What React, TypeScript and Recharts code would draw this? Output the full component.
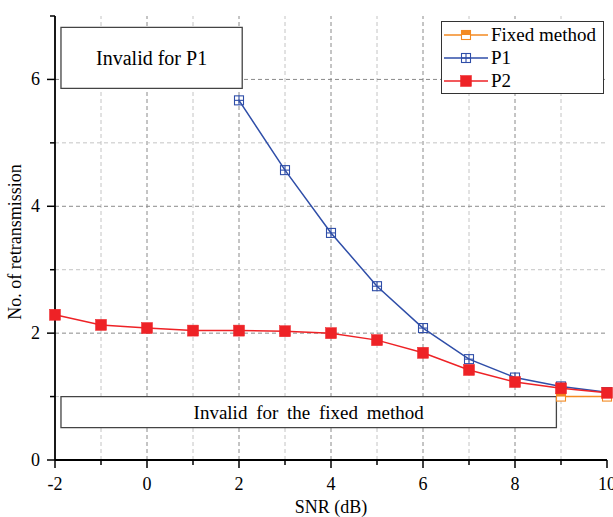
import React from 'react';
import { ComposedChart, Line, XAxis, YAxis, ReferenceLine, ReferenceArea, Legend } from 'recharts';

const snr = [-2, -1, 0, 1, 2, 3, 4, 5, 6, 7, 8, 9, 10];
const fixedMethod = [null, null, null, null, null, null, null, null, null, null, null, 1.0, 1.0];
const p1 = [null, null, null, null, 5.67, 4.57, 3.58, 2.74, 2.08, 1.59, 1.3, 1.16, 1.07];
const p2 = [2.29, 2.13, 2.08, 2.04, 2.04, 2.03, 2.0, 1.89, 1.69, 1.42, 1.23, 1.13, 1.06];

const xTicks = [-2, -1, 0, 1, 2, 3, 4, 5, 6, 7, 8, 9, 10];
const xMajor = [-2, 0, 2, 4, 6, 8, 10];
const yTicks = [0, 1, 2, 3, 4, 5, 6, 7];
const yMajor = [0, 2, 4, 6];

const seriesNames = ['Fixed method', 'P1', 'P2'];
const seriesColors = ['#f38a22', '#2f4ea8', '#ee2226'];

const data = snr.map((s, i) => ({ snr: s, fixed: fixedMethod[i], p1: p1[i], p2: p2[i] }));

const FONT = "Liberation Serif, Tinos, Times New Roman, Times, serif";

const BottomTick = (props: any) => {
  const { x, y, payload } = props;
  const major = xMajor.includes(payload.value);
  return (
    <g>
      <line x1={x} x2={x} y1={y} y2={y + (major ? 8 : 5)} stroke="#000" strokeWidth={1.5} />
      {major && (
        <text x={x} y={y + 30} textAnchor="middle" fontSize={18} style={{ fontFamily: FONT }} fill="#000">
          {payload.value}
        </text>
      )}
    </g>
  );
};
const TopTick = (props: any) => {
  const { x, y, payload } = props;
  const major = xMajor.includes(payload.value);
  return <line x1={x} x2={x} y1={y} y2={y - (major ? 8 : 5)} stroke="#000" strokeWidth={1.5} />;
};
const LeftTick = (props: any) => {
  const { x, y, payload } = props;
  const major = yMajor.includes(payload.value);
  return (
    <g>
      <line x1={x} x2={x - (major ? 8 : 5)} y1={y} y2={y} stroke="#000" strokeWidth={1.5} />
      {major && (
        <text x={x - 15} y={y + 6} textAnchor="end" fontSize={18} style={{ fontFamily: FONT }} fill="#000">
          {payload.value}
        </text>
      )}
    </g>
  );
};
const RightTick = (props: any) => {
  const { x, y, payload } = props;
  const major = yMajor.includes(payload.value);
  return <line x1={x} x2={x + (major ? 8 : 5)} y1={y} y2={y} stroke="#000" strokeWidth={1.5} />;
};

const P1Mark = ({ cx, cy, color }: any) => (
  <g>
    <rect x={cx - 4.5} y={cy - 4.5} width={9} height={9} fill="none" stroke={color} strokeWidth={1.1} />
    <line x1={cx - 4.5} x2={cx + 4.5} y1={cy} y2={cy} stroke={color} strokeWidth={1.1} />
    <line x1={cx} x2={cx} y1={cy - 4.5} y2={cy + 4.5} stroke={color} strokeWidth={1.1} />
  </g>
);
const P2Mark = ({ cx, cy, color }: any) => (
  <rect x={cx - 5.5} y={cy - 5.5} width={11} height={11} fill={color} stroke={color} strokeWidth={0.5} />
);
const FixedMark = ({ cx, cy, color }: any) => (
  <g>
    <rect x={cx - 4.5} y={cy - 4.5} width={9} height={9} fill="#fff" stroke={color} strokeWidth={1.1} />
    <rect x={cx - 4.5} y={cy - 4.5} width={9} height={4.5} fill={color} />
  </g>
);

const marks = [FixedMark, P1Mark, P2Mark];

const makeDot = (Mark: any, color: string) => (props: any) => {
  const { cx, cy, index } = props;
  if (cx == null || cy == null || props.value == null || (Array.isArray(props.value) && props.value[1] == null)) {
    return <g key={`d${index}`} />;
  }
  return (
    <g key={`d${index}`}>
      <Mark cx={cx} cy={cy} color={color} />
    </g>
  );
};

const LegendBox = () => (
  <div
    style={{
      width: 163,
      height: 73,
      border: '1.3px solid #333',
      background: '#fff',
      fontFamily: FONT,
      fontSize: 19,
      color: '#000',
      boxSizing: 'border-box',
      paddingTop: 1,
    }}
  >
    {seriesNames.map((n, i) => {
      const Mark = marks[i];
      return (
        <div key={n} style={{ display: 'flex', alignItems: 'center', height: 23 }}>
          <svg width={48} height={20} style={{ display: 'block' }}>
            <line x1={2} x2={46} y1={10} y2={10} stroke={seriesColors[i]} strokeWidth={1.5} />
            <Mark cx={24} cy={10} color={seriesColors[i]} />
          </svg>
          <span style={{ marginLeft: 1, lineHeight: '20px' }}>{n}</span>
        </div>
      );
    })}
  </div>
);

const gridMajor = '#8a8a8a';
const gridMinor = '#c4c4c4';

export default function App() {
  return (
    <div style={{ position: 'absolute', left: 0, top: 0, background: '#fff', fontFamily: FONT }}>
      <ComposedChart width={613} height={517} data={data} margin={{ top: 16, right: 6, bottom: 0, left: 0 }}>
        <XAxis
          xAxisId="b"
          dataKey="snr"
          type="number"
          domain={[-2, 10]}
          ticks={xTicks}
          interval={0}
          height={57}
          tickSize={0}
          tickMargin={0}
          tickLine={false}
          tick={<BottomTick />}
          axisLine={{ stroke: '#000', strokeWidth: 1.8 }}
          label={{
            content: ({ viewBox }: any) => (
              <text x={viewBox.x + viewBox.width / 2} y={viewBox.y + 53} textAnchor="middle" fontSize={18} style={{ fontFamily: FONT }} fill="#000">
                SNR (dB)
              </text>
            ),
          }}
        />
        <XAxis
          xAxisId="t"
          orientation="top"
          dataKey="snr"
          type="number"
          domain={[-2, 10]}
          ticks={xTicks}
          interval={0}
          height={0}
          tickSize={0}
          tickMargin={0}
          tickLine={false}
          tick={<TopTick />}
          axisLine={{ stroke: '#000', strokeWidth: 1.8 }}
        />
        <YAxis
          yAxisId="l"
          type="number"
          domain={[0, 7]}
          ticks={yTicks}
          interval={0}
          width={55}
          tickSize={0}
          tickMargin={0}
          tickLine={false}
          tick={<LeftTick />}
          axisLine={{ stroke: '#000', strokeWidth: 1.8 }}
          label={{
            content: ({ viewBox }: any) => {
              const cx = 17;
              const cy = viewBox.y + viewBox.height / 2 + 4;
              return (
                <text x={cx} y={cy} transform={`rotate(-90 ${cx} ${cy})`} textAnchor="middle" dominantBaseline="middle" fontSize={18} style={{ fontFamily: FONT }} fill="#000">
                  No. of retransmission
                </text>
              );
            },
          }}
        />
        <YAxis
          yAxisId="r"
          orientation="right"
          type="number"
          domain={[0, 7]}
          ticks={yTicks}
          interval={0}
          width={0}
          tickSize={0}
          tickMargin={0}
          tickLine={false}
          tick={<RightTick />}
          axisLine={{ stroke: '#000', strokeWidth: 1.8 }}
        />
        {xTicks.slice(1, -1).map((v) => (
          <ReferenceLine
            key={`gx${v}`}
            xAxisId="b"
            yAxisId="l"
            x={v}
            stroke={xMajor.includes(v) ? gridMajor : gridMinor}
            strokeDasharray="4 3"
            strokeWidth={1}
            zIndex={-100}
          />
        ))}
        {yTicks.slice(1, -1).map((v) => (
          <ReferenceLine
            key={`gy${v}`}
            xAxisId="b"
            yAxisId="l"
            y={v}
            stroke={yMajor.includes(v) ? gridMajor : gridMinor}
            strokeDasharray="4 3"
            strokeWidth={1}
            zIndex={-100}
          />
        ))}
        <ReferenceArea
          xAxisId="b"
          yAxisId="l"
          x1={-1.87}
          x2={2.07}
          y1={5.86}
          y2={6.82}
          fill="#fff"
          fillOpacity={1}
          stroke="#444"
          strokeWidth={1.3}
          zIndex={50}
          label={{ value: 'Invalid for P1', position: 'center', fontSize: 20, fill: '#000', style: { fontFamily: FONT } }}
        />
        <ReferenceArea
          xAxisId="b"
          yAxisId="l"
          x1={-1.87}
          x2={8.9}
          y1={0.51}
          y2={1.0}
          fill="#fff"
          fillOpacity={1}
          stroke="#444"
          strokeWidth={1.3}
          zIndex={50}
          label={{ value: 'Invalid for the fixed method', position: 'center', fontSize: 19, fill: '#000', style: { fontFamily: FONT, wordSpacing: '4px' } }}
        />
        <Line
          xAxisId="b"
          yAxisId="l"
          dataKey="fixed"
          name={seriesNames[0]}
          stroke={seriesColors[0]}
          strokeWidth={1.5}
          dot={makeDot(FixedMark, seriesColors[0])}
          isAnimationActive={false}
        />
        <Line
          xAxisId="b"
          yAxisId="l"
          dataKey="p1"
          name={seriesNames[1]}
          stroke={seriesColors[1]}
          strokeWidth={1.5}
          dot={makeDot(P1Mark, seriesColors[1])}
          isAnimationActive={false}
        />
        <Line
          xAxisId="b"
          yAxisId="l"
          dataKey="p2"
          name={seriesNames[2]}
          stroke={seriesColors[2]}
          strokeWidth={1.5}
          dot={makeDot(P2Mark, seriesColors[2])}
          isAnimationActive={false}
        />
        <Legend
          layout="vertical"
          align="center"
          verticalAlign="middle"
          content={<LegendBox />}
          wrapperStyle={{ position: 'absolute', left: 441, top: 21, width: 163, height: 73 }}
        />
      </ComposedChart>
    </div>
  );
}
